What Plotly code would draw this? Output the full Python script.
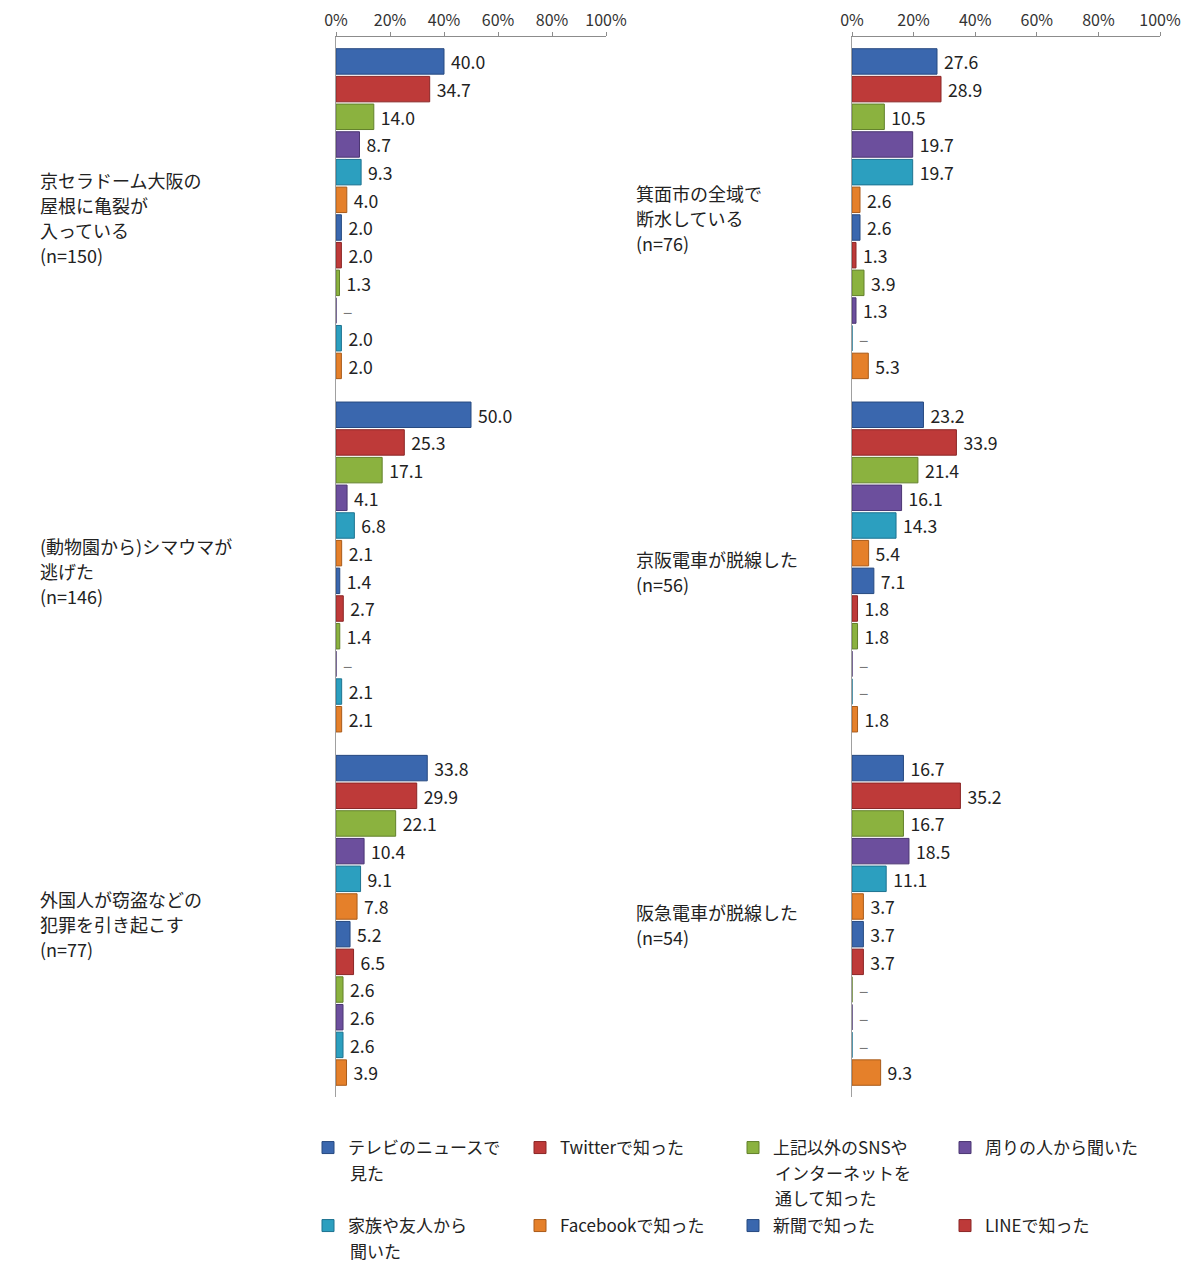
import plotly.graph_objects as go
from plotly.subplots import make_subplots

# 情報源（凡例の9〜12番目は画像の外で読めない）
sources = [
    "テレビのニュースで<br>見た",
    "Twitterで知った",
    "上記以外のSNSや<br>インターネットを<br>通して知った",
    "周りの人から聞いた",
    "家族や友人から<br>聞いた",
    "Facebookで知った",
    "新聞で知った",
    "LINEで知った",
    "その他の情報源9",
    "その他の情報源10",
    "その他の情報源11",
    "その他の情報源12",
]
colors = ["#3A67AE", "#BE3A39", "#8BB23F", "#6C4F9D", "#2C9FBF", "#E5802A",
          "#3A67AE", "#BE3A39", "#8BB23F", "#6C4F9D", "#2C9FBF", "#E5802A"]
edges = ["#274A80", "#8A2626", "#62802A", "#4B3672", "#1D7390", "#A95B1A",
         "#274A80", "#8A2626", "#62802A", "#4B3672", "#1D7390", "#A95B1A"]

# 左側の3つのデマ
left_items = [
    "京セラドーム大阪の<br>屋根に亀裂が<br>入っている<br>(n=150)",
    "(動物園から)シマウマが<br>逃げた<br>(n=146)",
    "外国人が窃盗などの<br>犯罪を引き起こす<br>(n=77)",
]
# None = 「–」
left_values = [
    [40.0, 34.7, 14.0, 8.7, 9.3, 4.0, 2.0, 2.0, 1.3, None, 2.0, 2.0],
    [50.0, 25.3, 17.1, 4.1, 6.8, 2.1, 1.4, 2.7, 1.4, None, 2.1, 2.1],
    [33.8, 29.9, 22.1, 10.4, 9.1, 7.8, 5.2, 6.5, 2.6, 2.6, 2.6, 3.9],
]

# 右側の3つのデマ
right_items = [
    "箕面市の全域で<br>断水している<br>(n=76)",
    "京阪電車が脱線した<br>(n=56)",
    "阪急電車が脱線した<br>(n=54)",
]
right_values = [
    [27.6, 28.9, 10.5, 19.7, 19.7, 2.6, 2.6, 1.3, 3.9, 1.3, None, 5.3],
    [23.2, 33.9, 21.4, 16.1, 14.3, 5.4, 7.1, 1.8, 1.8, None, None, 1.8],
    [16.7, 35.2, 16.7, 18.5, 11.1, 3.7, 3.7, 3.7, None, None, None, 9.3],
]

xticks = [0, 20, 40, 60, 80, 100]

FONT = "Noto Sans CJK JP"
W, H = 1200, 1280
OFF = 8                  # ページ余白のぶん
TOP, BOTTOM = 37 - OFF, 1097 - OFF   # 描画領域の上端・下端 (px)
LINE = 25                # 複数行テキストの行間 (px)


def paper_y(py):
    return (BOTTOM - (py - OFF)) / (BOTTOM - TOP)


fig = make_subplots(rows=1, cols=2)

for col, (items, values) in enumerate([(left_items, left_values), (right_items, right_values)], start=1):
    for i, name in enumerate(sources):
        vals = [row[i] for row in values]
        full = name.replace("<br>", "")
        fig.add_trace(go.Bar(
            y=items,
            x=[v if v is not None else 0 for v in vals],
            orientation="h",
            name=name.split("<br>")[0],
            legend="legend" if i == 0 else f"legend{i + 1}" if i < 8 else "legend",
            showlegend=(col == 1 and i < 8),
            marker=dict(color=colors[i], line=dict(color=edges[i], width=1)),
            text=["\u00a0" + f"{v:.1f}" if v is not None else "\u00a0–" for v in vals],
            textposition="outside",
            cliponaxis=False,
            textfont=dict(size=18, color=["#222222" if v is not None else "#777777" for v in vals],
                          family=FONT),
            hovertemplate=full + ": %{x}<extra></extra>",
        ), row=1, col=col)

    # 項目名は左寄せ・1行ずつ表示
    label_x = (38 - OFF) / W if col == 1 else (634 - OFF) / W
    for item in items:
        lines = item.split("<br>")
        n = len(lines)
        for k, line in enumerate(lines):
            fig.add_annotation(
                x=label_x, xref="paper", xanchor="left",
                y=item, yref="y" if col == 1 else "y2", yanchor="middle",
                yshift=-((k - (n - 1) / 2) * LINE) - 4,
                text=line, showarrow=False,
                font=dict(size=18, color="#222222", family=FONT),
            )

axis_x = dict(range=[0, 100], tickvals=xticks, ticktext=[f"{t}%" for t in xticks],
              side="top", showgrid=False, zeroline=False, showline=True,
              linecolor="#8c8c8c", ticks="outside", ticklen=4, tickcolor="#8c8c8c",
              tickfont=dict(size=16, color="#333333", family=FONT))
axis_y = dict(autorange="reversed", showticklabels=False, showgrid=False,
              showline=True, linecolor="#a0a0a0", ticks="")

# 凡例は4列×2段で配置（2行目以降は注釈で続ける）
legend_cols = [348, 560, 773, 985]   # 文字の左端 (px)
legend_rows = [1147, 1225]           # 1行目の中心 (px)
legends = {}
for k in range(8):
    tx = legend_cols[k % 4]
    ty = legend_rows[k // 4]
    legends["legend" if k == 0 else f"legend{k + 1}"] = dict(
        x=(tx - 40 - OFF) / W, xanchor="left",
        y=paper_y(ty - 17), yanchor="top",
        valign="top", itemwidth=30, borderwidth=0, bgcolor="rgba(0,0,0,0)",
        font=dict(size=17, color="#222222", family=FONT),
    )
    for j, line in enumerate(sources[k].split("<br>")[1:], start=1):
        fig.add_annotation(
            x=(tx - OFF) / W, xref="paper", xanchor="left",
            y=paper_y(ty + j * LINE), yref="paper", yanchor="middle",
            text=line, showarrow=False,
            font=dict(size=17, color="#222222", family=FONT),
        )

fig.update_layout(
    xaxis=dict(domain=[(336 - OFF) / W, (606 - OFF) / W], **axis_x),
    xaxis2=dict(domain=[(852 - OFF) / W, (1160 - OFF) / W], **axis_x),
    yaxis=axis_y,
    yaxis2=axis_y,
    barmode="group",
    bargap=0.06,
    bargroupgap=0.08,
    width=W,
    height=H,
    margin=dict(l=0, r=0, t=TOP, b=H - BOTTOM, autoexpand=False),
    paper_bgcolor="white",
    plot_bgcolor="white",
    font=dict(family=FONT, color="#222222"),
    **legends,
)

fig.write_html("out.html")
